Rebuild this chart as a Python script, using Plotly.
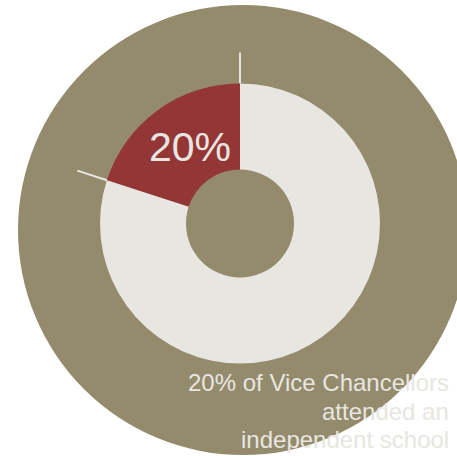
import math
import plotly.graph_objects as go

# Figure size in pixels; the hidden axes use the same units
W, H = 457, 456

# Data
labels = ["Independent school", "Other schools"]
values = [20, 80]
headline = f"{values[0] / sum(values):.0%}"
caption_lines = ["20% of Vice Chancellors", "attended an", "independent school"]
caption_y = [382.5, 411.5, 439.5]

# Palette
KHAKI = "#948a6c"
RED = "#943636"
LIGHT = "#e8e6e1"
FONT = "Liberation Sans, Arial, sans-serif"

# Donut geometry (pixels)
cx, cy, R = 240, 223.5, 140
hole = 0.386
tick_r = 171
bg_cx, bg_cy, bg_r = 243, 230, 225

total = sum(values)
first_share_deg = 360 * values[0] / total

fig = go.Figure()

# Donut: the highlighted slice ends at 12 o'clock, sweeping in from the left
fig.add_trace(go.Pie(
    labels=labels,
    values=values,
    hole=hole,
    sort=False,
    direction="clockwise",
    rotation=-first_share_deg,
    marker=dict(colors=[RED, LIGHT], line=dict(width=0)),
    textinfo="none",
    hoverinfo="skip",
    showlegend=False,
    domain=dict(x=[(cx - R) / W, (cx + R) / W],
                y=[1 - (cy + R) / H, 1 - (cy - R) / H]),
))

# Short ticks continuing both edges of the highlighted slice outward
tx, ty = [], []
for deg in (0.0, first_share_deg):
    ang = math.radians(deg)
    tx += [cx - R * math.sin(ang), cx - tick_r * math.sin(ang), None]
    ty += [cy - R * math.cos(ang), cy - tick_r * math.cos(ang), None]
fig.add_trace(go.Scatter(
    x=tx, y=ty, mode="lines",
    line=dict(color=LIGHT, width=2),
    hoverinfo="skip", showlegend=False,
))

# Large backdrop disc
fig.add_shape(
    type="circle", xref="x", yref="y",
    x0=bg_cx - bg_r, x1=bg_cx + bg_r, y0=bg_cy - bg_r, y1=bg_cy + bg_r,
    fillcolor=KHAKI, line=dict(width=0), layer="below",
)

# Headline value in the highlighted slice
fig.add_annotation(
    x=190, y=147, xref="x", yref="y", text=headline, showarrow=False,
    font=dict(family=FONT, size=41, color=LIGHT),
    xanchor="center", yanchor="middle",
)

# Caption, right-aligned
for line, yy in zip(caption_lines, caption_y):
    fig.add_annotation(
        x=451, y=yy, xref="x", yref="y", text=line, showarrow=False,
        font=dict(family=FONT, size=24, color=LIGHT),
        xanchor="right", yanchor="middle",
    )

fig.update_layout(
    width=W, height=H,
    margin=dict(l=0, r=0, t=0, b=0),
    paper_bgcolor="white",
    plot_bgcolor="rgba(0,0,0,0)",
    xaxis=dict(range=[0, W], visible=False, fixedrange=True, domain=[0, 1]),
    yaxis=dict(range=[H, 0], visible=False, fixedrange=True, domain=[0, 1]),
    showlegend=False,
)

fig.write_html("out.html")
